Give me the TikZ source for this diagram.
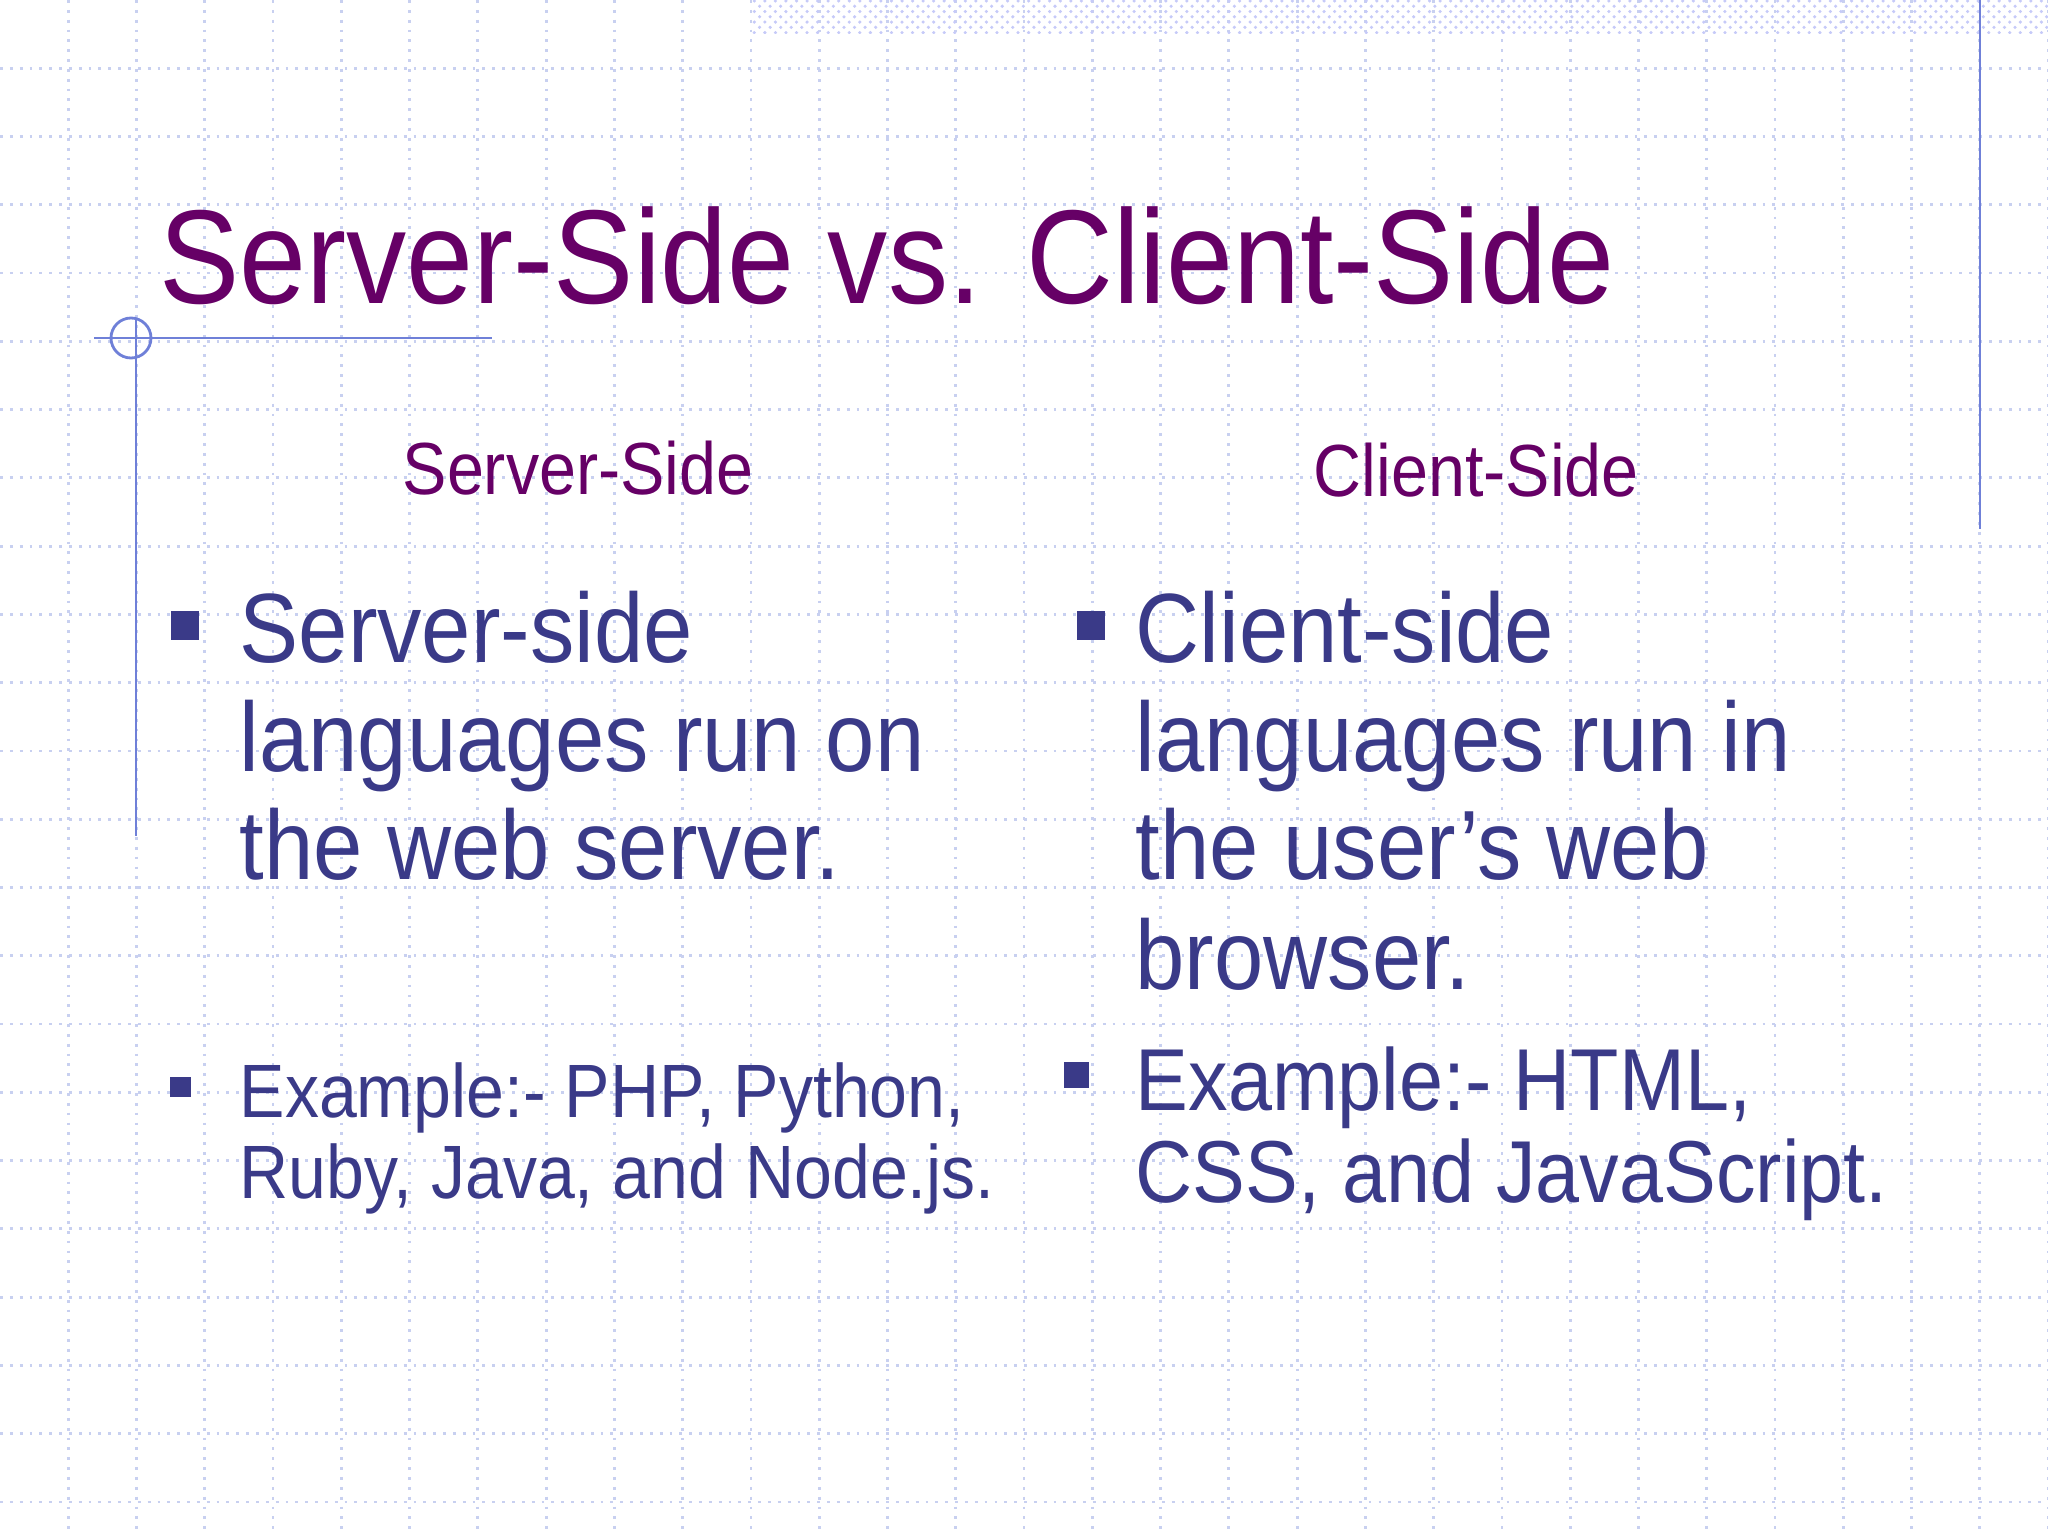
\documentclass[tikz,border=0pt]{standalone}
\usepackage{fontspec}
\setmainfont[FakeStretch=0.9]{Liberation Sans}
\usetikzlibrary{patterns}
\definecolor{titlepurple}{HTML}{660066}
\definecolor{bodyblue}{HTML}{3A3A88}
\definecolor{gridblue}{HTML}{C8D0F0}
\definecolor{lineblue}{HTML}{6F80D8}
\begin{document}
\begin{tikzpicture}[x=0.01cm,y=-0.01cm,
  bodytext/.style={anchor=base west,inner sep=0,text=bodyblue,font=\fontsize{28}{30}\selectfont},
  bulletbox/.style={fill=bodyblue}]
  \useasboundingbox (0,0) rectangle (2048,1536);
  % grid
  \foreach \i in {1,...,30}
    \draw[gridblue,dotted,line width=0.8pt] (\i*68.27,0) -- (\i*68.27,1536);
  \foreach \j in {1,...,22}
    \draw[gridblue,dotted,line width=0.8pt] (0,\j*68.27) -- (2048,\j*68.27);
  % top band
  \fill[pattern=crosshatch dots,pattern color=gridblue!80!blue!60] (751,0) rectangle (2048,33);
  % frame lines
  \draw[lineblue,line width=0.8pt] (1980,0) -- (1980,529);
  \draw[lineblue,line width=0.8pt] (136,320) -- (136,836);
  \draw[lineblue,line width=0.8pt] (94,338) -- (492,338);
  \draw[lineblue,line width=0.8pt] (131,338) circle (20);
  % title
  \node[anchor=base west,inner sep=0,text=titlepurple,font=\fontsize{38}{40}\selectfont] (title) at (159,303) {Server-Side vs. Client-Side};
  \node[anchor=base west,inner sep=0,text=titlepurple,font=\fontsize{21}{23}\selectfont] (serverhead) at (402,494) {Server-Side};
  \node[anchor=base west,inner sep=0,text=titlepurple,font=\fontsize{21}{23}\selectfont] (clienthead) at (1313,496) {Client-Side};
  % left column
  \fill[bulletbox] (171,611) rectangle (199,640);
  \node[bodytext] (s1) at (239,662) {Server-side};
  \node[bodytext] (s2) at (239,771) {languages run on};
  \node[bodytext] (s3) at (239,879) {the web server.};
  \fill[bulletbox] (170,1077) rectangle (191,1097);
  \node[bodytext,font=\fontsize{21.5}{23}\selectfont] (se1) at (239,1117) {Example:- PHP, Python,};
  \node[bodytext,font=\fontsize{21.5}{23}\selectfont] (se2) at (239,1198) {Ruby, Java, and Node.js.};
  % right column
  \fill[bulletbox] (1077,611) rectangle (1105,640);
  \node[bodytext] (c1) at (1135,662) {Client-side};
  \node[bodytext] (c2) at (1135,771) {languages run in};
  \node[bodytext] (c3) at (1135,879) {the user{\char"27}s web};
  \node[bodytext] (c4) at (1135,989) {browser.};
  \fill[bulletbox] (1064,1062) rectangle (1089,1088);
  \node[bodytext,font=\fontsize{25}{27}\selectfont] (ce1) at (1135,1110) {Example:- HTML,};
  \node[bodytext,font=\fontsize{25}{27}\selectfont] (ce2) at (1135,1202) {CSS, and JavaScript.};
\end{tikzpicture}
\end{document}
